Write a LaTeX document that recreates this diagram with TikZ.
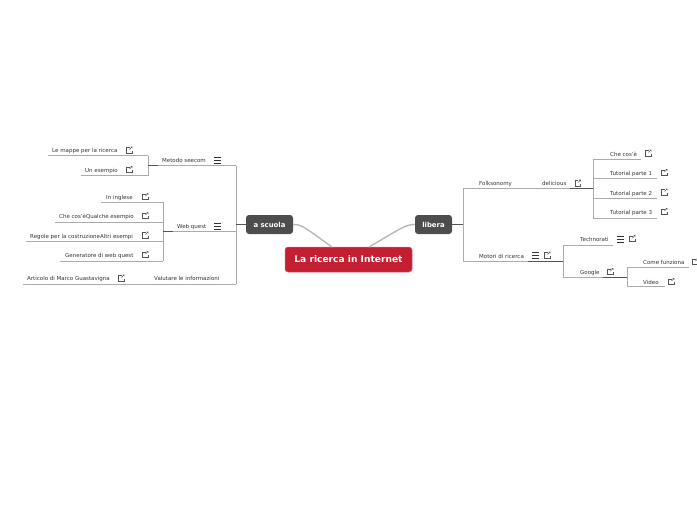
\documentclass[tikz,border=0pt]{standalone}
\usepackage{fontspec}
\setmainfont{DejaVu Sans}
\usetikzlibrary{positioning,calc}
\definecolor{MMRed}   {HTML}{C41E33}
\definecolor{MMDark}  {HTML}{4D4D4D}
\definecolor{MMLine}  {HTML}{ABABAB}
\definecolor{MMStem}  {HTML}{555555}
\definecolor{MMText}  {HTML}{333333}
\begin{document}
\begin{tikzpicture}[x=1pt,y=-1pt,
    root/.style={fill=MMRed,draw=MMRed!70!white,line width=0.5pt,rounded corners=3pt,
                 minimum width=127pt,minimum height=25pt,inner sep=0pt,
                 font=\fontsize{9.1}{11}\selectfont\bfseries,text=white},
    mainb/.style={fill=MMDark,rounded corners=3pt,minimum height=19pt,inner sep=0pt,
                 font=\fontsize{6.9}{8}\selectfont\bfseries,text=white},
    topic/.style={anchor=base west,inner sep=0pt,
                 font=\fontsize{5.5}{6}\selectfont,text=MMText},
    link/.style={draw=MMLine,line width=1pt},
    stem/.style={draw=MMStem,line width=1pt},
    curve/.style={draw=MMLine!85!white,line width=1.4pt},
    extlink/.pic={\draw[MMStem,line width=0.4pt] (0.5,-2.8) -- (-2.8,-2.8) -- (-2.8,3) -- (3,3) -- (3,0.5);
                  \draw[MMStem,line width=0.4pt] (0.5,-0.5) -- (3,-3) (1.5,-3.2) -- (3.2,-3.2) -- (3.2,-1.5);},
    menuic/.pic={\draw[MMText,line width=0.6pt] (-3.5,-3) -- (3.5,-3) (-3.5,0) -- (3.5,0) (-3.5,3) -- (3.5,3);}
  ]
    \useasboundingbox (0,0) rectangle (697,520);
    \node[root]  (ricerca) at (348.5,259.5) {\raisebox{-1pt}{La ricerca in Internet}};
    \node[mainb,minimum width=47pt] (scuola) at (269.5,224.5) {a scuola};
    \node[mainb,minimum width=37pt] (libera) at (433.5,224.5) {libera};

    \node[topic] (mappe)      at (52,152)    {Le mappe per la ricerca};
    \node[topic] (esempio)    at (85,172)    {Un esempio};
    \node[topic] (metodo)     at (162,162)   {Metodo seecom};
    \node[topic] (inglese)    at (106,199)   {In inglese};
    \node[topic] (checose)    at (59,218)    {Che cos'èQualche esempio};
    \node[topic] (regole)     at (30,238)    {Regole per la costruzioneAltri esempi};
    \node[topic] (generatore) at (65,257)    {Generatore di web quest};
    \node[topic] (webquest)   at (177,228)   {Web quest};
    \node[topic] (valutare)   at (154,280)   {Valutare le informazioni};
    \node[topic] (articolo)   at (27,280)    {Articolo di Marco Guastavigna};

    \node[topic] (folk)       at (479,185)   {Folksonomy};
    \node[topic] (delicious)  at (542,185)   {delicious};
    \node[topic] (checos)     at (610,156)   {Che cos'è};
    \node[topic] (tuta)       at (610,175)   {Tutorial parte 1};
    \node[topic] (tutb)       at (610,195)   {Tutorial parte 2};
    \node[topic] (tutc)       at (610,214)   {Tutorial parte 3};
    \node[topic] (motori)     at (479,258)   {Motori di ricerca};
    \node[topic] (techno)     at (580,241)   {Technorati};
    \node[topic] (google)     at (580,274)   {Google};
    \node[topic] (come)       at (643,264)   {Come funziona};
    \node[topic] (video)      at (643,284)   {Video};

    \coordinate (mappeL) at (48,155.5);
    \coordinate (mappeR) at (148,155.5);
    \coordinate (esempioL) at (81,175.5);
    \coordinate (esempioR) at (148,175.5);
    \coordinate (metodoH) at (148,165.5);
    \coordinate (metodoL) at (158,165.5);
    \coordinate (metodoR) at (236,165.5);
    \coordinate (inglL) at (101,202);
    \coordinate (inglR) at (163,202);
    \coordinate (cheL) at (55,222);
    \coordinate (cheR) at (163,222);
    \coordinate (regL) at (26,241);
    \coordinate (regR) at (163,241);
    \coordinate (genL) at (60,261);
    \coordinate (genR) at (163,261);
    \coordinate (webH) at (163,231);
    \coordinate (webL) at (173,231);
    \coordinate (webR) at (236,231);
    \coordinate (artL) at (23,284);
    \coordinate (valR) at (236,284);
    \coordinate (scuolaH) at (236,224.5);

    \coordinate (liberaH) at (463,224.5);
    \coordinate (folkL) at (463,188);
    \coordinate (delR) at (570,188);
    \coordinate (tutH) at (593,188);
    \coordinate (cheT) at (593,159);
    \coordinate (cheE) at (641,159);
    \coordinate (taL) at (593,178.5);
    \coordinate (taR) at (657,178.5);
    \coordinate (tbL) at (593,198.5);
    \coordinate (tbR) at (657,198.5);
    \coordinate (tcL) at (593,218);
    \coordinate (tcR) at (657,218);
    \coordinate (motL) at (463,261);
    \coordinate (motR) at (528,261);
    \coordinate (motH) at (563,261);
    \coordinate (tecL) at (563,245);
    \coordinate (tecR) at (613,245);
    \coordinate (gooL) at (563,277);
    \coordinate (gooR) at (603,277);
    \coordinate (gooH) at (627,277);
    \coordinate (comL) at (627,267);
    \coordinate (comR) at (689,267);
    \coordinate (vidL) at (627,286.5);
    \coordinate (vidR) at (665,286.5);

    \foreach \a/\b in {mappeL/mappeR,esempioL/esempioR,mappeR/esempioR,metodoL/metodoR,
                       inglL/inglR,cheL/cheR,regL/regR,genL/genR,inglR/genR,webL/webR,
                       artL/valR,metodoR/valR,
                       folkL/delR,folkL/motL,cheT/cheE,taL/taR,tbL/tbR,tcL/tcR,cheT/tcL,
                       motL/motR,tecL/tecR,gooL/gooR,tecL/gooL,comL/comR,vidL/vidR,comL/vidL}
      \draw[link](\a)--(\b);
    \foreach \a/\b in {metodoH/metodoL,webH/webL,scuolaH/scuola.west,libera.east/liberaH,
                       delR/tutH,motR/motH,gooR/gooH}
      \draw[stem](\a)--(\b);

    \draw[curve] (scuola.east) .. controls (302,224.5) and (304,227) .. (332,247);
    \draw[curve] (libera.west) .. controls (406,224.5) and (403,227) .. (369,247);

    \foreach \px/\py in {129/150,129/169.5,145/196.5,145/215.5,145/235,145/254.5,121/278,
                         577.5/183,648/153,664/172.5,664/192,664/211.5,547/255,632/238.5,
                         610/271.5,695/261.5,671/281.5}
      \pic at (\px,\py) {extlink};
    \foreach \px/\py in {217/160,217/226,535.5/255,620/239}
      \pic at (\px,\py) {menuic};
  \end{tikzpicture}
\end{document}
